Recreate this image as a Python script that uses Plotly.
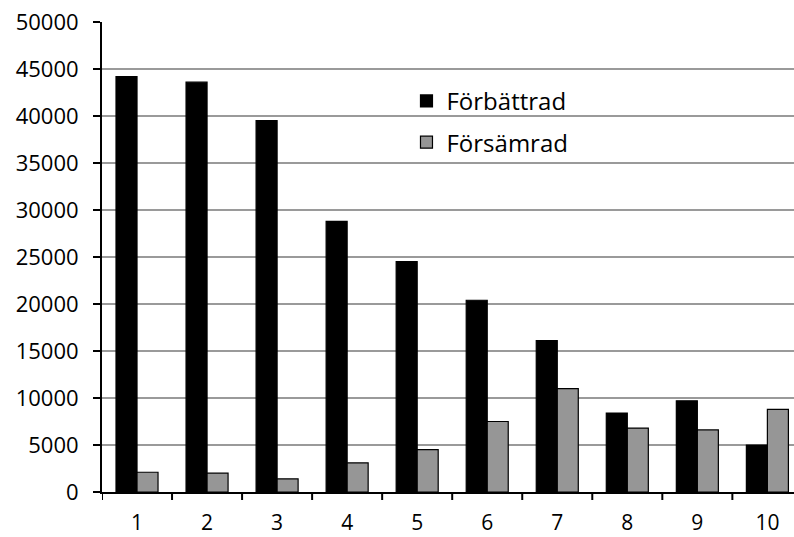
import plotly.graph_objects as go

categories = [1, 2, 3, 4, 5, 6, 7, 8, 9, 10]
forbattrad = [44200, 43600, 39500, 28800, 24500, 20400, 16100, 8400, 9700, 5000]
forsamrad = [2100, 2000, 1400, 3100, 4500, 7500, 11000, 6800, 6600, 8800]
y_ticks = [0, 5000, 10000, 15000, 20000, 25000, 30000, 35000, 40000, 45000, 50000]

FONT = "Open Sans"

fig = go.Figure()
fig.add_trace(go.Bar(
    x=categories, y=forbattrad, name="Förbättrad",
    marker=dict(color="#000000", line=dict(color="#000000", width=1.2)),
    legendgroup="a",
))
fig.add_trace(go.Bar(
    x=categories, y=forsamrad, name="Försämrad",
    marker=dict(color="#969696", line=dict(color="#000000", width=1.2)),
    legendgroup="b",
))

fig.update_layout(
    width=794, height=537,
    margin=dict(l=102, r=0, t=22, b=45),
    paper_bgcolor="white", plot_bgcolor="white",
    barmode="group", bargap=0.4, bargroupgap=0,
    font=dict(family=FONT, color="#000000", size=22),
    showlegend=True,
    legend=dict(
        x=0.44, y=0.879, xanchor="left", yanchor="top",
        font=dict(size=24, family=FONT),
        bgcolor="rgba(0,0,0,0)",
        tracegroupgap=7,
        traceorder="grouped",
    ),
)

fig.update_xaxes(
    type="linear",
    range=[0.5, 10.38],
    automargin=False,
    tickmode="array", tickvals=categories, ticktext=[str(c) for c in categories],
    ticks="", showgrid=False,
    showline=True, linecolor="#000000", linewidth=2,
    zeroline=False,
    tickfont=dict(size=21, family=FONT),
    ticklabelstandoff=11,
)
# boundary tick marks between categories
for b in [0.5 + i for i in range(11)]:
    fig.add_shape(type="line", xref="x", yref="paper", x0=b, x1=b,
                  y0=0, y1=-0.017, line=dict(color="#000000", width=2))

fig.update_yaxes(
    range=[0, 50000],
    automargin=False,
    tickmode="array", tickvals=y_ticks, ticktext=[str(v) for v in y_ticks],
    ticks="outside", ticklen=7, tickwidth=2, tickcolor="#000000",
    showgrid=True, gridcolor="#9a9a9a", gridwidth=1.5,
    showline=True, linecolor="#000000", linewidth=2,
    zeroline=False,
    tickfont=dict(size=22, family=FONT),
    ticklabelstandoff=10,
)

fig.write_html("out.html")
